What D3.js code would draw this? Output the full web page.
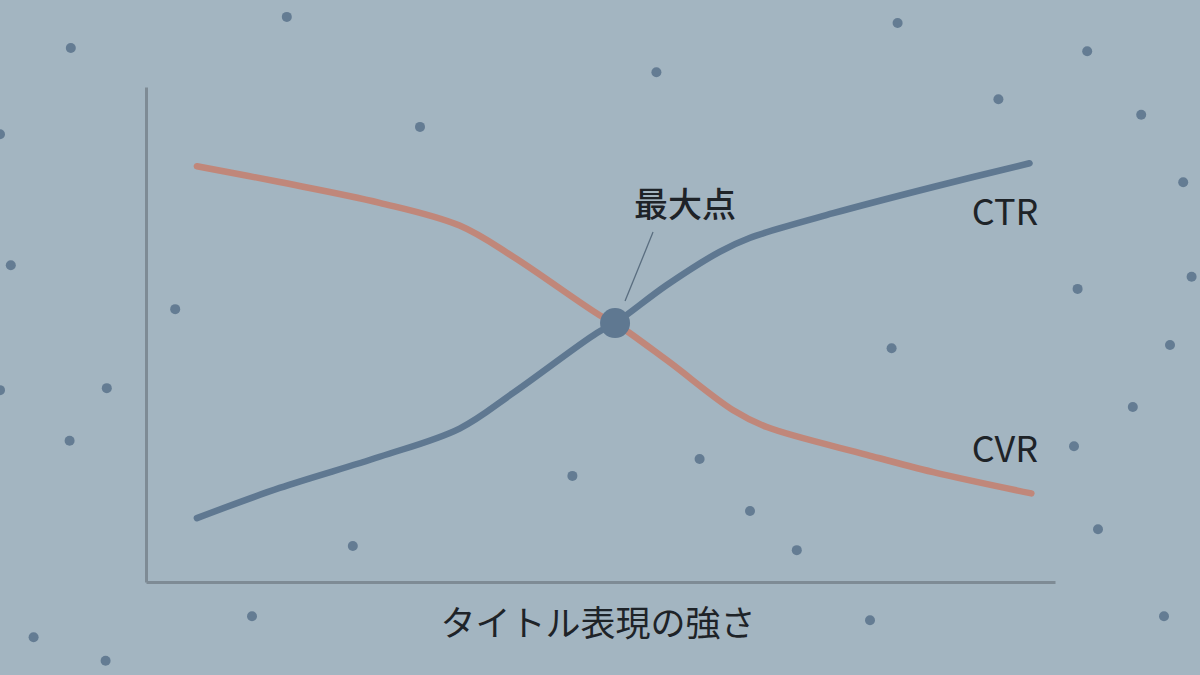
<!DOCTYPE html>
<html>
<head>
<meta charset="utf-8">
<script src="https://cdn.jsdelivr.net/npm/d3@7"></script>
<style>
  html, body { margin: 0; padding: 0; background: #a3b5c1; }
  svg { display: block; }
</style>
</head>
<body>
<svg id="chart"></svg>
<script>
const width = 1200, height = 675;

// x position along "タイトル表現の強さ" (0-100), y value (0-100)
const ctrX = [5.6, 14.7, 25.7, 34.5, 40.4, 49.6, 51.6, 57.3, 63.1, 66.4, 75.6, 86.6, 97.2];
const ctrY = [12.9, 19.0, 25.3, 31.0, 38.2, 50.3, 52.3, 60.0, 66.7, 69.5, 74.5, 79.8, 84.6];
const cvrX = [5.6, 14.7, 25.7, 34.5, 40.4, 49.9, 51.6, 57.3, 64.6, 68.3, 79.3, 86.6, 97.4];
const cvrY = [84.0, 80.8, 76.6, 72.0, 65.7, 53.9, 52.3, 44.8, 34.7, 31.3, 25.7, 22.2, 17.9];

const peak = { x: 51.6, y: 52.3, label: "最大点" };
const seriesNames = ["CTR", "CVR"];
const xTitle = "タイトル表現の強さ";

// background speckles, as % of the frame
const dotX = [23.9, 5.9, 54.7, 74.8, 90.6, 83.2, 95.1, 35.0, 0, 98.6, 0.9, 89.8, 99.3, 14.6, 74.3, 97.5, 8.9, 0, 94.4, 5.8, 89.5, 47.7, 58.3, 62.5, 91.5, 29.4, 66.4, 21.0, 72.5, 97.0, 2.8, 8.8];
const dotY = [2.5, 7.1, 10.7, 3.4, 7.6, 14.7, 17.0, 18.8, 19.9, 27.0, 39.3, 42.8, 41.0, 45.8, 51.6, 51.1, 57.5, 57.8, 60.3, 65.3, 66.1, 70.5, 68.0, 75.7, 78.4, 80.9, 81.5, 91.3, 91.9, 91.3, 94.4, 97.9];

const svg = d3.select("#chart").attr("width", width).attr("height", height);

svg.append("rect").attr("width", width).attr("height", height).attr("fill", "#a3b5c1");

const bgX = d3.scaleLinear().domain([0, 100]).range([0, width]);
const bgY = d3.scaleLinear().domain([0, 100]).range([0, height]);

svg.append("g").selectAll("circle")
  .data(d3.range(dotX.length))
  .join("circle")
    .attr("cx", i => bgX(dotX[i]))
    .attr("cy", i => bgY(dotY[i]))
    .attr("r", 5)
    .attr("fill", "#647c93");

const x = d3.scaleLinear().domain([0, 100]).range([146, 1055]);
const y = d3.scaleLinear().domain([0, 100]).range([582, 87]);

// axes: just the two bare lines, no ticks
const axisColor = "#7e8b95";
svg.append("g")
  .attr("transform", `translate(0,${y(0)})`)
  .call(d3.axisBottom(x).ticks(0).tickSize(0))
  .call(g => g.select(".domain").attr("stroke", axisColor).attr("stroke-width", 3));
svg.append("g")
  .attr("transform", `translate(${x(0)},0)`)
  .call(d3.axisLeft(y).ticks(0).tickSize(0))
  .call(g => g.select(".domain").attr("stroke", axisColor).attr("stroke-width", 3));

const line = d3.line()
  .x(d => x(d[0]))
  .y(d => y(d[1]))
  .curve(d3.curveCatmullRom.alpha(0.5));

const ctr = ctrX.map((v, i) => [v, ctrY[i]]);
const cvr = cvrX.map((v, i) => [v, cvrY[i]]);

svg.append("path").datum(cvr)
  .attr("d", line)
  .attr("fill", "none")
  .attr("stroke", "#c0877a")
  .attr("stroke-width", 6.5)
  .attr("stroke-linecap", "round");

svg.append("path").datum(ctr)
  .attr("d", line)
  .attr("fill", "none")
  .attr("stroke", "#5f7891")
  .attr("stroke-width", 6.5)
  .attr("stroke-linecap", "round");

// peak marker + leader line
svg.append("circle")
  .attr("cx", x(peak.x))
  .attr("cy", y(peak.y))
  .attr("r", 15)
  .attr("fill", "#5f7891");

svg.append("line")
  .attr("x1", x(peak.x) + 10).attr("y1", y(peak.y) - 22)
  .attr("x2", x(peak.x) + 38).attr("y2", y(peak.y) - 91)
  .attr("stroke", "#5a6e80")
  .attr("stroke-width", 1.3);

const font = "'Noto Sans CJK JP', 'Noto Sans', sans-serif";

svg.append("text")
  .attr("x", x(peak.x) + 70)
  .attr("y", y(peak.y) - 121)
  .attr("text-anchor", "middle")
  .attr("dominant-baseline", "central")
  .attr("font-family", font)
  .attr("font-size", 34)
  .attr("font-weight", 500)
  .attr("fill", "#1e2328")
  .text(peak.label);

// series labels sit just below each line's end
const labelY = [y(ctrY[ctrY.length - 1]) + 46, y(cvrY[cvrY.length - 1]) - 47];
svg.append("g").selectAll("text")
  .data(seriesNames)
  .join("text")
    .attr("x", 1005)
    .attr("y", (d, i) => labelY[i])
    .attr("text-anchor", "middle")
    .attr("dominant-baseline", "central")
    .attr("font-family", font)
    .attr("font-size", 36)
    .attr("fill", "#1e2328")
    .text(d => d);

svg.append("text")
  .attr("x", 598)
  .attr("y", 620)
  .attr("text-anchor", "middle")
  .attr("dominant-baseline", "central")
  .attr("font-family", font)
  .attr("font-size", 35)
  .attr("fill", "#1e2328")
  .text(xTitle);
</script>
</body>
</html>
